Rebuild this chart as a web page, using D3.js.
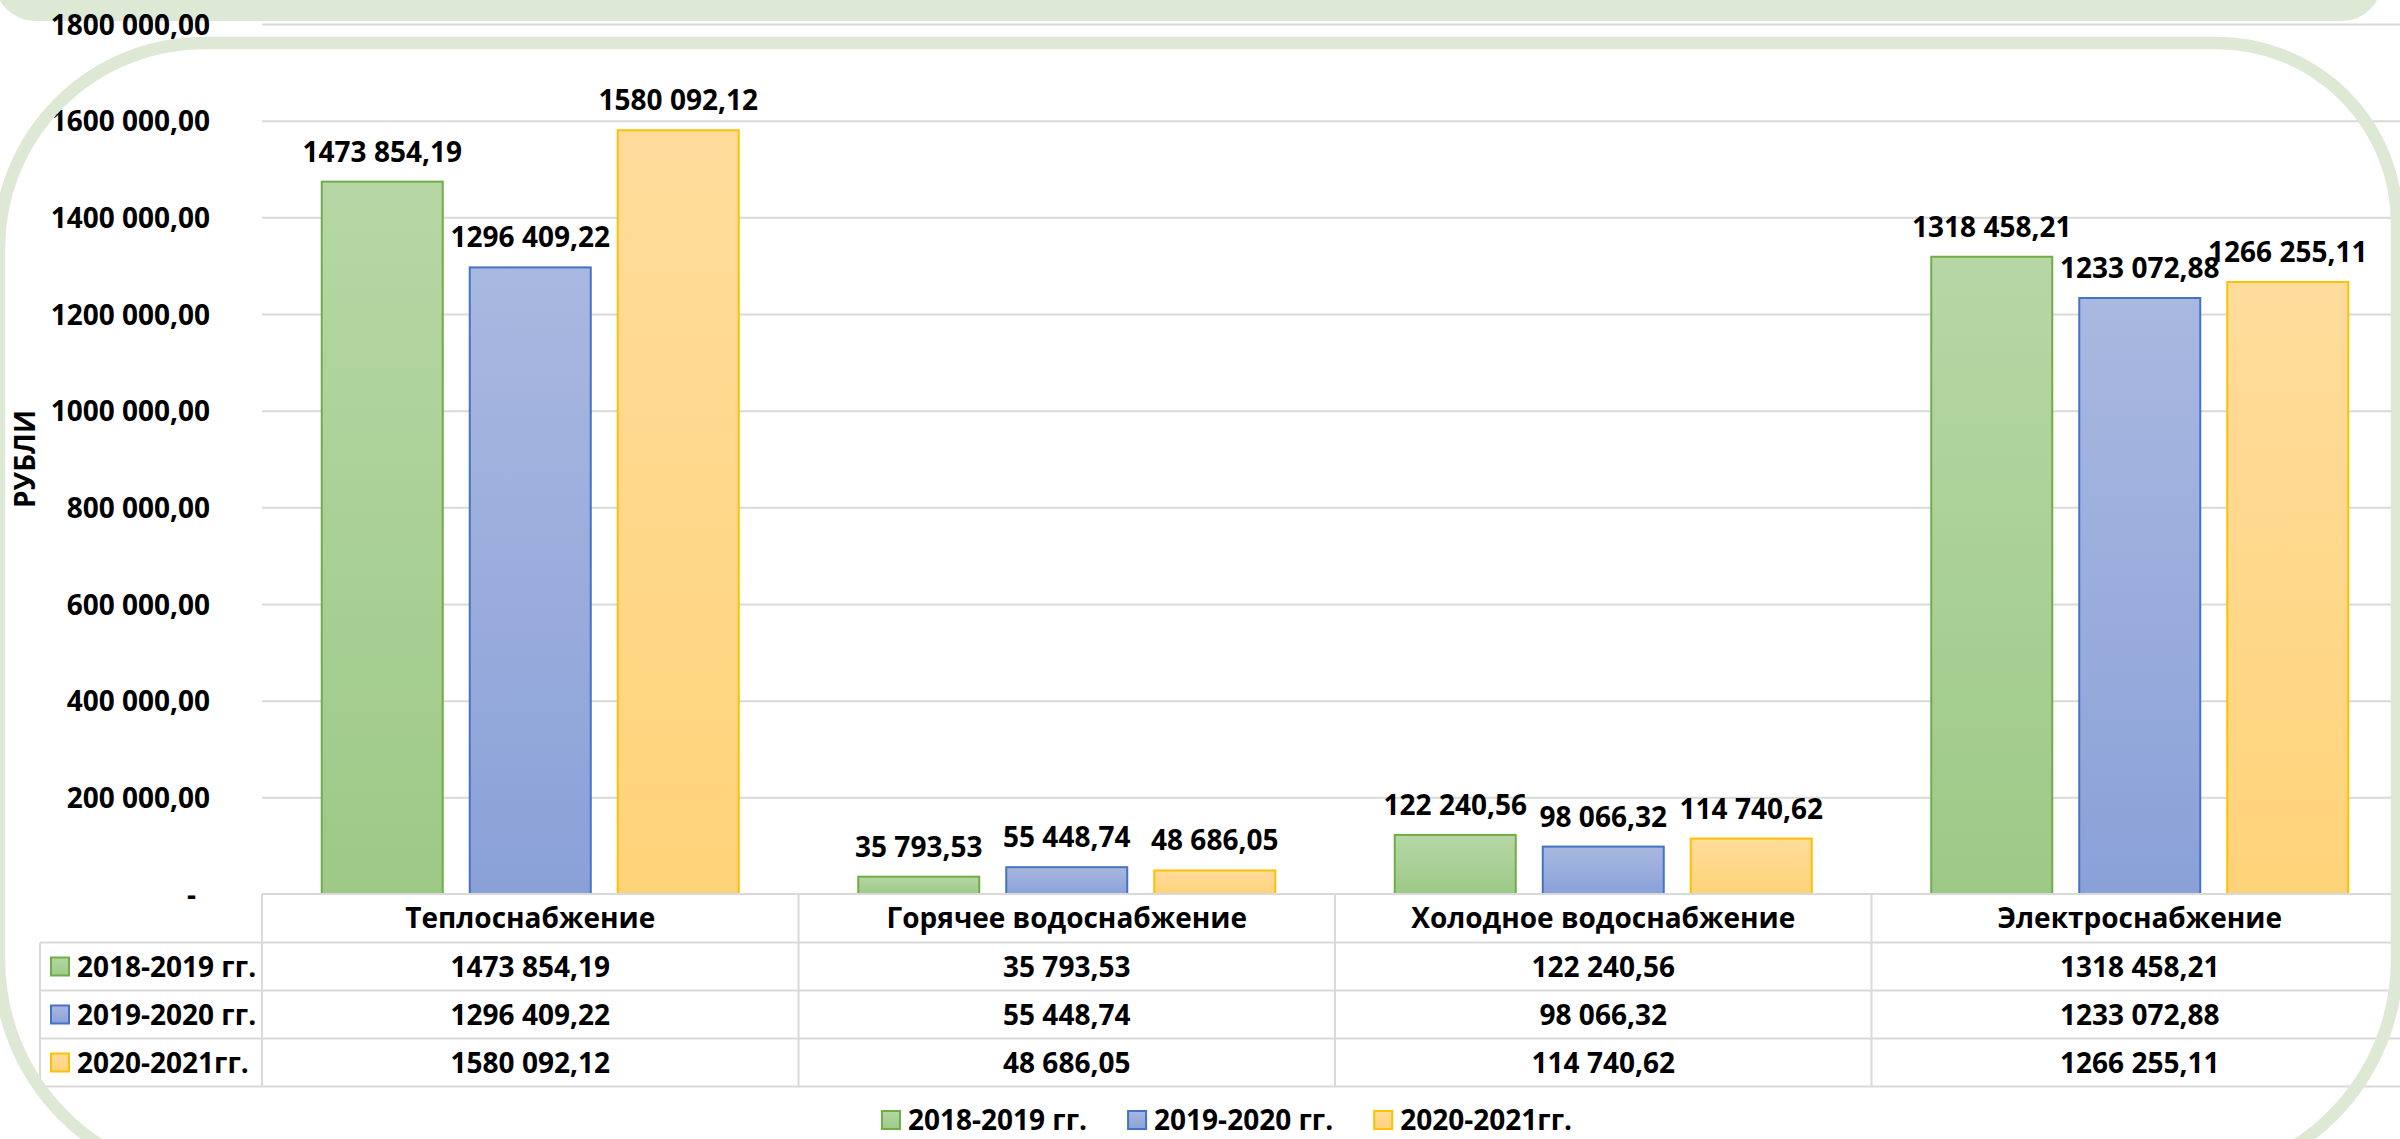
<!DOCTYPE html>
<html>
<head>
<meta charset="utf-8">
<script src="https://cdn.jsdelivr.net/npm/d3@7/dist/d3.min.js"></script>
<style>
  html, body { margin: 0; padding: 0; background: #ffffff; }
  svg { display: block; }
  text { font-family: "Open Sans", "Noto Sans", sans-serif; font-weight: 700; fill: #000; }
</style>
</head>
<body>
<svg id="chart" width="2400" height="1139"></svg>
<script>
// ---- data ----
const categories = ["Теплоснабжение", "Горячее водоснабжение", "Холодное водоснабжение", "Электроснабжение"];
const seriesNames = ["2018-2019 гг.", "2019-2020 гг.", "2020-2021гг."];
const values2018 = [1473854.19, 35793.53, 122240.56, 1318458.21];
const values2019 = [1296409.22, 55448.74, 98066.32, 1233072.88];
const values2020 = [1580092.12, 48686.05, 114740.62, 1266255.11];
const yTicks = [0, 200000, 400000, 600000, 800000, 1000000, 1200000, 1400000, 1600000, 1800000];
const axisTitle = "РУБЛИ";

const seriesValues = [values2018, values2019, values2020];
const seriesStyle = [
  { top: "#b6d7a5", bottom: "#9dc987", stroke: "#70ad47" },
  { top: "#a9b8e0", bottom: "#8aa1d8", stroke: "#4472c4" },
  { top: "#ffdc9c", bottom: "#ffd379", stroke: "#ffc000" }
];

// "1473 854,19" style: one space before the last three integer digits, comma decimals
function fmt(v) {
  if (v === 0) return "-";
  const [ip, dp] = v.toFixed(2).split(".");
  const intPart = ip.length > 3 ? ip.slice(0, -3) + " " + ip.slice(-3) : ip;
  return intPart + "," + dp;
}

const svg = d3.select("#chart");

// ---- layout ----
const plotLeft = 262, plotRight = 2408;
const plotTop = 24, plotBottom = 894;
const rowH = 48;
const headerBottom = 942.5;
const legendColLeft = 40;
const gridColor = "#d9d9d9";
const frameColor = "#dde9d5";

const x = d3.scaleBand().domain(categories).range([plotLeft, plotRight]).padding(0);
const xInner = d3.scaleBand().domain(d3.range(seriesNames.length))
  .range([0, x.bandwidth()]).paddingInner(0.1824).paddingOuter(0.4037);
const y = d3.scaleLinear().domain([0, 1800000]).range([plotBottom, plotTop]);

// gradients
const defs = svg.append("defs");
seriesStyle.forEach((s, i) => {
  const g = defs.append("linearGradient").attr("id", "grad" + i)
    .attr("x1", 0).attr("y1", 0).attr("x2", 0).attr("y2", 1);
  g.append("stop").attr("offset", "0%").attr("stop-color", s.top);
  g.append("stop").attr("offset", "100%").attr("stop-color", s.bottom);
});

// decorative banner at the top of the slide
function roundedPath(l, t, r, b, rtl, rtr, rbr, rbl) {
  return `M${l + rtl},${t} L${r - rtr},${t} A${rtr},${rtr} 0 0 1 ${r},${t + rtr} ` +
    `L${r},${b - rbr} A${rbr},${rbr} 0 0 1 ${r - rbr},${b} L${l + rbl},${b} ` +
    `A${rbl},${rbl} 0 0 1 ${l},${b - rbl} L${l},${t + rtl} A${rtl},${rtl} 0 0 1 ${l + rtl},${t} Z`;
}
svg.append("path")
  .attr("d", roundedPath(-5, -60, 2382, 21, 40, 40, 40, 40))
  .attr("fill", frameColor);

// ---- gridlines and y axis ----
const yAxis = d3.axisLeft(y).tickValues(yTicks).tickSize(0).tickFormat(fmt);
const gAxis = svg.append("g").attr("transform", `translate(${plotLeft},0)`).call(yAxis);
gAxis.select(".domain").remove();
gAxis.selectAll(".tick text")
  .attr("x", d => d === 0 ? -66 : -52)
  .attr("dy", null)
  .attr("y", 10)
  .attr("font-size", 28)
  .attr("font-family", null)
  .attr("fill", "#000");
gAxis.selectAll(".tick").filter(d => d !== 0)
  .append("line")
  .attr("x1", 0).attr("x2", plotRight - plotLeft)
  .attr("stroke", gridColor).attr("stroke-width", 2);

svg.append("text")
  .attr("transform", `translate(35,${(plotTop + plotBottom) / 2})rotate(-90)`)
  .attr("text-anchor", "middle")
  .attr("font-size", 28)
  .text(axisTitle);

// ---- bars ----
const groups = svg.append("g").selectAll("g").data(categories).join("g")
  .attr("transform", d => `translate(${x(d)},0)`);

groups.each(function (cat, ci) {
  const g = d3.select(this);
  seriesValues.forEach((vals, si) => {
    const v = vals[ci];
    g.append("rect")
      .attr("x", xInner(si))
      .attr("y", y(v))
      .attr("width", xInner.bandwidth())
      .attr("height", y(0) - y(v))
      .attr("fill", `url(#grad${si})`)
      .attr("stroke", seriesStyle[si].stroke)
      .attr("stroke-width", 2);
    g.append("text")
      .attr("x", xInner(si) + xInner.bandwidth() / 2)
      .attr("y", y(v) - 20)
      .attr("text-anchor", "middle")
      .attr("font-size", 28)
      .text(fmt(v));
  });
});

// ---- data table ----
const table = svg.append("g");
const line = (x1, y1, x2, y2) => table.append("line")
  .attr("x1", x1).attr("y1", y1).attr("x2", x2).attr("y2", y2)
  .attr("stroke", gridColor).attr("stroke-width", 2);

const tableBottom = headerBottom + rowH * seriesNames.length;
line(plotLeft, plotBottom, plotRight, plotBottom);
for (let r = 0; r <= seriesNames.length; r++) {
  line(legendColLeft, headerBottom + r * rowH, plotRight, headerBottom + r * rowH);
}
line(legendColLeft, headerBottom, legendColLeft, tableBottom);
categories.forEach(c => line(x(c), plotBottom, x(c), tableBottom));
line(plotRight, plotBottom, plotRight, tableBottom);

categories.forEach(c => {
  table.append("text")
    .attr("x", x(c) + x.bandwidth() / 2)
    .attr("y", (plotBottom + headerBottom) / 2 + 10)
    .attr("text-anchor", "middle").attr("font-size", 28)
    .text(c);
});

seriesNames.forEach((name, si) => {
  const cy = headerBottom + si * rowH + rowH / 2;
  table.append("rect")
    .attr("x", 51).attr("y", cy - 9).attr("width", 18).attr("height", 18)
    .attr("fill", `url(#grad${si})`)
    .attr("stroke", seriesStyle[si].stroke).attr("stroke-width", 2);
  table.append("text")
    .attr("x", 77).attr("y", cy + 10).attr("font-size", 28)
    .text(name);
  categories.forEach((c, ci) => {
    table.append("text")
      .attr("x", x(c) + x.bandwidth() / 2)
      .attr("y", cy + 10)
      .attr("text-anchor", "middle").attr("font-size", 28)
      .text(fmt(seriesValues[si][ci]));
  });
});

// ---- legend ----
const legend = svg.append("g");
const legendY = 1120;
const items = seriesNames.map((name, si) => {
  const g = legend.append("g");
  g.append("rect")
    .attr("x", 0).attr("y", legendY - 9).attr("width", 18).attr("height", 18)
    .attr("fill", `url(#grad${si})`)
    .attr("stroke", seriesStyle[si].stroke).attr("stroke-width", 2);
  const t = g.append("text")
    .attr("x", 26).attr("y", legendY + 10).attr("font-size", 28)
    .text(name);
  return { g, w: 26 + t.node().getComputedTextLength() };
});
const gap = 41;
const total = d3.sum(items, d => d.w) + gap * (items.length - 1);
let lx = 1227 - total / 2;
items.forEach(it => { it.g.attr("transform", `translate(${lx},0)`); lx += it.w + gap; });

// ---- outer frame ----
svg.append("path")
  .attr("d", roundedPath(-1, 43, 2397, 1180, 205, 180, 220, 220))
  .attr("fill", "none")
  .attr("stroke", frameColor)
  .attr("stroke-width", 12.5);
</script>
</body>
</html>
